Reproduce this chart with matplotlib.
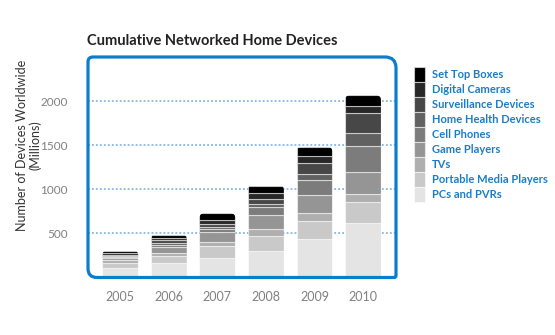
import numpy as np
import matplotlib
matplotlib.use("Agg")
import matplotlib.pyplot as plt
from matplotlib.patches import FancyBboxPatch, Patch, PathPatch
from matplotlib.path import Path
from matplotlib.transforms import Affine2D

plt.rcParams['font.family'] = ['Lato', 'DejaVu Sans']

years = ['2005', '2006', '2007', '2008', '2009', '2010']

# stacked from the bottom up, millions of devices
categories = ['PCs and PVRs', 'Portable Media Players', 'TVs', 'Game Players',
              'Cell Phones', 'Home Health Devices', 'Surveillance Devices',
              'Digital Cameras', 'Set Top Boxes']
pcs = [110, 159, 223, 306, 431, 620]
media_players = [60, 90, 132, 170, 208, 234]
tvs = [25, 31, 50, 76, 94, 98]
game_players = [25, 68, 109, 155, 200, 246]
cell_phones = [15, 26, 38, 95, 178, 291]
home_health = [8, 20, 20, 26, 68, 151]
surveillance = [15, 29, 38, 57, 114, 227]
cameras = [20, 25, 40, 68, 83, 83]
set_top = [25, 36, 76, 90, 102, 114]
series = [pcs, media_players, tvs, game_players, cell_phones, home_health,
          surveillance, cameras, set_top]

greys = ['#e4e4e4', '#c9c9c9', '#afafaf', '#959595', '#7c7c7c', '#616161',
         '#474747', '#282828', '#000000']

yticks = [500, 1000, 1500, 2000]

W, H = 555, 335
fig = plt.figure(figsize=(W / 100, H / 100), dpi=100)

left, right, top, bottom = 88, 396, 57, 277.5
ax = fig.add_axes([left / W, 1 - bottom / H, (right - left) / W, (bottom - top) / H])

px_x = 48.54          # pixels per year
ax.set_xlim((left - 120.3) / px_x, (right - 120.3) / px_x)
ax.set_ylim(0, 2500)
for s in ax.spines.values():
    s.set_visible(False)
ax.tick_params(length=0)

x = np.arange(len(years))
bw = 0.74

# dotted guide lines behind the bars
for t in yticks:
    ax.axhline(t, color='#86b6e4', lw=1.3, ls=(0, (1, 1.2)), zorder=0)

totals = np.sum(series, axis=0)
ypp = 2500 / (bottom - top)     # data units per pixel, y
xpp = 1 / px_x                  # data units per pixel, x
r = 4.5 * xpp

# rounded tops: clip each column with a rounded box
clips = []
for i in range(len(years)):
    c = FancyBboxPatch((x[i] - bw / 2, -600), bw, totals[i] + 600,
                       boxstyle=f"round,pad=0,rounding_size={r}",
                       mutation_aspect=ypp / xpp, transform=ax.transData)
    clips.append(c)

base = np.zeros(len(years))
for vals, col in zip(series, greys):
    bars = ax.bar(x, vals, bw, bottom=base, color=col,
                  edgecolor=(1, 1, 1, 0.55), linewidth=0.8, zorder=2)
    for b, c in zip(bars, clips):
        b.set_clip_path(c)
    base += vals

ax.set_yticks(yticks)
ax.set_yticklabels([str(t) for t in yticks], fontsize=8.5, color='#808080')
ax.set_xticks(x)
ax.set_xticklabels(years, fontsize=9, color='#808080')
ax.tick_params(axis='y', pad=14.4)
ax.tick_params(axis='x', pad=9.5)


# blue frame with uneven rounded corners (pixel units)
def frame_path(l, b, r_, t, rtl, rtr, rbr, rbl):
    verts = [(l + rbl, b), (r_ - rbr, b), (r_, b), (r_, b + rbr),
             (r_, t - rtr), (r_, t), (r_ - rtr, t),
             (l + rtl, t), (l, t), (l, t - rtl),
             (l, b + rbl), (l, b), (l + rbl, b)]
    codes = [Path.MOVETO, Path.LINETO, Path.CURVE3, Path.CURVE3,
             Path.LINETO, Path.CURVE3, Path.CURVE3,
             Path.LINETO, Path.CURVE3, Path.CURVE3,
             Path.LINETO, Path.CURVE3, Path.CURVE3]
    return Path(verts, codes)


p = frame_path(left, H - bottom, right, H - top, 5, 11, 2, 9)
frame = PathPatch(p, transform=Affine2D().scale(1 / W, 1 / H) + fig.transFigure,
                  fill=False, edgecolor='#0a7dcc', lw=2.3, zorder=5)
fig.patches.append(frame)

fig.text(87 / W, 1 - 41 / H, 'Cumulative Networked Home Devices', fontsize=10.5,
         color='#222222', fontweight='bold', va='center', ha='left')

fig.text(29 / W, 1 - 145 / H, 'Number of Devices Worldwide\n(Millions)', rotation=90,
         fontsize=9, color='#333333', ha='center', va='center', multialignment='center',
         linespacing=1.05)

handles = [Patch(facecolor=c, edgecolor=(1, 1, 1, 0.55), linewidth=0.8) for c in greys]
leg = fig.legend(handles[::-1], categories[::-1], loc='upper left',
                 bbox_to_anchor=(414 / W, 1 - 66.7 / H), frameon=False,
                 fontsize=8, labelcolor='#1a7dc8', handlelength=1.0, handleheight=1.7,
                 labelspacing=0.0, handletextpad=0.6, borderpad=0, borderaxespad=0)
for t in leg.get_texts():
    t.set_fontweight('bold')

fig.savefig('out.png', dpi=100)
